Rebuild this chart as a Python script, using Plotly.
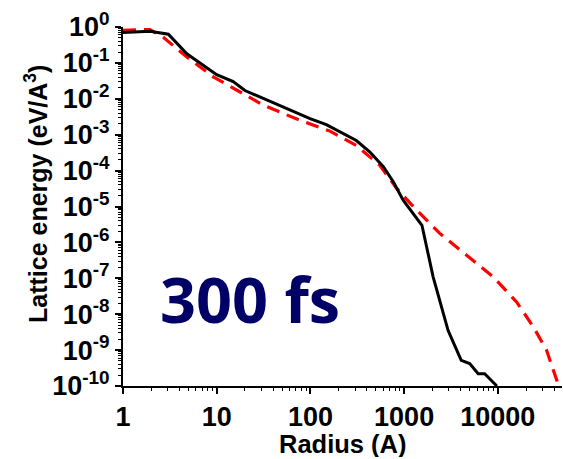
import plotly.graph_objects as go

# Black solid curve (simulation)
black_x = [1, 1.94, 3.05, 4.8, 10, 15, 20, 99, 148, 309, 432, 603, 769, 977,
           1550, 2040, 2950, 4070, 5010, 6170, 7240, 9770]
black_y = [0.70, 0.76, 0.63, 0.18, 0.047, 0.030, 0.017, 2.8e-3, 1.9e-3, 6.9e-4,
           3.3e-4, 1.26e-4, 4.8e-5, 1.5e-5, 3.0e-6, 1.1e-7, 3.5e-9, 5.2e-10,
           4.2e-10, 2.2e-10, 2.2e-10, 1.0e-10]

# Red dashed curve (model)
red_x = [1, 1.94, 2.69, 4.8, 9.2, 17.8, 31.6, 77.6, 162, 309, 550, 832, 1259,
         2400, 4680, 8900, 15850, 24000, 33100, 44700]
red_y = [0.81, 0.85, 0.52, 0.145, 0.041, 0.0155, 6.6e-3, 2.5e-3, 1.26e-3,
         5.0e-4, 1.41e-4, 3.2e-5, 9.8e-6, 1.78e-6, 4.4e-7, 1.1e-7, 2.2e-8,
         4.4e-9, 1.0e-9, 1.0e-10]

x_tickvals = [1, 10, 100, 1000, 10000]
x_ticktext = ["1", "10", "100", "1000", "10000"]
y_exponents = [0, -1, -2, -3, -4, -5, -6, -7, -8, -9, -10]
y_tickvals = [10.0 ** e for e in y_exponents]
y_ticktext = ["10<sup>%d</sup>" % e for e in y_exponents]

fig = go.Figure()
fig.add_trace(go.Scatter(x=red_x, y=red_y, mode="lines",
                         line=dict(color="#ff0000", width=3.2, dash="13px,8px"),
                         showlegend=False))
fig.add_trace(go.Scatter(x=black_x, y=black_y, mode="lines",
                         line=dict(color="#000000", width=3),
                         showlegend=False))

tickfont = dict(family="Liberation Sans, Arial", size=27, color="black", weight="bold")

fig.update_layout(
    width=563, height=459,
    margin=dict(l=123, r=1, t=27, b=73),
    paper_bgcolor="white", plot_bgcolor="white",
    xaxis=dict(type="log", range=[0, 4.685],
               tickvals=x_tickvals, ticktext=x_ticktext,
               showgrid=False, zeroline=False,
               showline=True, linecolor="black", linewidth=2,
               ticks="outside", ticklen=6, tickwidth=1.5, tickcolor="black",
               minor=dict(ticks="outside", ticklen=3, tickwidth=1, tickcolor="black",
                          dtick="D1", showgrid=False),
               tickfont=tickfont),
    yaxis=dict(type="log", range=[-10, 0],
               tickvals=y_tickvals, ticktext=y_ticktext,
               showgrid=False, zeroline=False,
               showline=True, linecolor="black", linewidth=2,
               ticks="outside", ticklen=6, tickwidth=1.5, tickcolor="black",
               minor=dict(ticks="outside", ticklen=3, tickwidth=1, tickcolor="black",
                          dtick="D1", showgrid=False),
               tickfont=tickfont),
    annotations=[
        dict(text="Radius (A)",
             xref="paper", yref="paper", x=0.5, y=(386 - 444) / 359,
             xanchor="center", yanchor="middle", showarrow=False,
             height=26, valign="middle",
             font=dict(family="Liberation Sans, Arial", size=25.5,
                       color="black", weight="bold")),
        dict(text="Lattice energy (eV/A<sup>3</sup>)", textangle=-90,
             xref="paper", yref="paper", x=(36 - 123) / 439, y=(386 - 194) / 359,
             xanchor="center", yanchor="middle", showarrow=False,
             font=dict(family="Liberation Sans, Arial", size=25,
                       color="black", weight="bold")),
        dict(text="300 fs", xref="paper", yref="paper",
             x=(250 - 123) / 439, y=(386 - 298) / 359,
             xanchor="center", yanchor="middle", showarrow=False,
             font=dict(family="Open Sans", size=63, color="#000066",
                       weight="bold")),
    ],
)

fig.write_html("out.html")
